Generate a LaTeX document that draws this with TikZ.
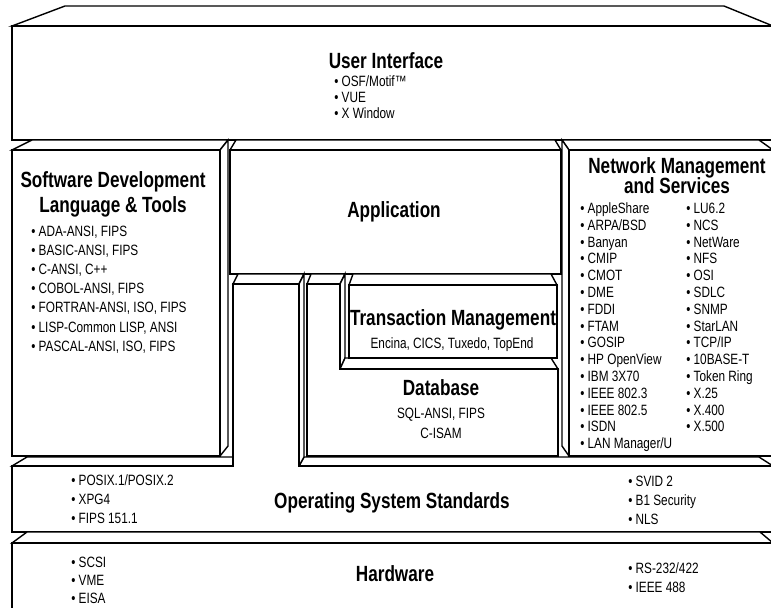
\documentclass[tikz,border=0pt]{standalone}
\usepackage{fontspec}
\setmainfont{Liberation Sans}
\newfontfamily\headf{Liberation Sans}[FakeStretch=0.78]
\newfontfamily\itemf{Liberation Sans}[FakeStretch=0.79]
\tikzset{
  face/.style={draw=black, fill=white, line width=1.05pt, line join=miter},
  head/.style={font=\headf\bfseries\fontsize{16.5}{18}\selectfont, anchor=base, inner sep=0pt},
  sub/.style={font=\itemf\fontsize{11.2}{13}\selectfont, anchor=base, inner sep=0pt},
  item/.style={font=\itemf\fontsize{11.2}{13}\selectfont, anchor=base west, inner sep=0pt}
}
\begin{document}
\begin{tikzpicture}[x=0.75pt,y=-0.75pt]
\useasboundingbox (0,0) rectangle (771,607);
\clip (0,0) rectangle (771,607);
% User Interface
\draw[face] (12,26) -- (65,6) -- (724,6) -- (773,26) -- cycle;
\draw[face] (12,26) rectangle (773,140);
% Software Development
\draw[face] (12,150) -- (32,140) -- (228,140) -- (220,150) -- cycle;
\draw[face] (220,150) -- (228,140) -- (228,446) -- (220,456) -- cycle;
\draw[face] (12,150) rectangle (220,456);
% Application
\draw[face] (230,150) -- (236,140) -- (555,140) -- (561,150) -- cycle;
\draw[face] (230,150) rectangle (561,274);
% Network
\draw[face] (569,150) -- (562,140) -- (759,140) -- (773,150) -- cycle;
\draw[face] (569,150) -- (562,140) -- (562,446) -- (569,456) -- cycle;
\draw[face] (569,150) rectangle (773,456);
% Database (L-shaped)
\draw[face] (307,284) -- (311,274) -- (345,274) -- (340,284) -- cycle;
\draw[face] (340,284) -- (345,274) -- (345,358) -- (340,369) -- cycle;
\draw[face] (340,369) -- (345,358) -- (551,358) -- (558,369) -- cycle;
\draw[face] (307,284) -- (340,284) -- (340,369) -- (558,369) -- (558,456) -- (307,456) -- cycle;
% Transaction Management
\draw[face] (349,285) -- (353,274) -- (551,274) -- (557,285) -- cycle;
\draw[face] (349,285) rectangle (557,358);
% Operating System (T-shaped, with a column up to the Application)
\draw[face] (12,466) -- (27,457) -- (240,457) -- (233,466) -- cycle;
\draw[face] (299,466) -- (304,457) -- (759,457) -- (773,466) -- cycle;
\draw[face] (233,284) -- (238,274) -- (304,274) -- (299,284) -- cycle;
\draw[face] (299,284) -- (304,274) -- (304,457) -- (299,466) -- cycle;
\draw[face] (12,466) -- (233,466) -- (233,284) -- (299,284) -- (299,466) -- (773,466)
  -- (773,532) -- (12,532) -- cycle;
% Hardware
\draw[face] (12,543) -- (27,532) -- (760,532) -- (773,543) -- cycle;
\draw[face] (12,543) rectangle (773,620);

% Texts
\node[head] (ui) at (386,68) {User Interface};
\foreach \t [count=\i] in {OSF/Motif™, VUE, X Window}
  \node[item] (ui\i) at (334,{86.4+15.8*(\i-1)}) {\textbullet\ \t};

\node[head] (sdh1) at (113,187) {Software Development};
\node[head] (sdh2) at (113,212) {Language \& Tools};
\foreach \t [count=\i] in {{ADA-ANSI, FIPS},{BASIC-ANSI, FIPS},{C-ANSI, C++},{COBOL-ANSI, FIPS},{FORTRAN-ANSI, ISO, FIPS},{LISP-Common LISP, ANSI},{PASCAL-ANSI, ISO, FIPS}}
  \node[item] (sd\i) at (31,{236.1+19.2*(\i-1)}) {\textbullet\ \t};

\node[head] (app) at (394,217) {Application};

\node[head] (nmh1) at (677,173) {Network Management};
\node[head] (nmh2) at (677,193) {and Services};
\foreach \t [count=\i] in {AppleShare,ARPA/BSD,Banyan,CMIP,CMOT,DME,FDDI,FTAM,GOSIP,HP OpenView,IBM 3X70,IEEE 802.3,IEEE 802.5,ISDN,LAN Manager/U}
  \node[item] (na\i) at (580,{213.4+16.8*(\i-1)}) {\textbullet\ \t};
\foreach \t [count=\i] in {LU6.2,NCS,NetWare,NFS,OSI,SDLC,SNMP,StarLAN,TCP/IP,10BASE-T,Token Ring,X.25,X.400,X.500}
  \node[item] (nb\i) at (686,{213.4+16.8*(\i-1)}) {\textbullet\ \t};

\node[head] (tm) at (453,325) {Transaction Management};
\node[sub] (tmsub) at (452,348) {Encina, CICS, Tuxedo, TopEnd};

\node[head] (db) at (441,395) {Database};
\node[sub] (db1) at (441,418.5) {SQL-ANSI, FIPS};
\node[sub] (db2) at (441,438.5) {C-ISAM};

\node[head] (os) at (392,508) {Operating System Standards};
\foreach \t [count=\i] in {POSIX.1/POSIX.2,XPG4,FIPS 151.1}
  \node[item] (osl\i) at (71,{485.4+18.9*(\i-1)}) {\textbullet\ \t};
\foreach \t [count=\i] in {SVID 2,B1 Security,NLS}
  \node[item] (osr\i) at (628,{486.4+19*(\i-1)}) {\textbullet\ \t};

\node[head] (hw) at (395,581) {Hardware};
\foreach \t [count=\i] in {SCSI,VME,EISA}
  \node[item] (hwl\i) at (71,{567.4+18*(\i-1)}) {\textbullet\ \t};
\foreach \t [count=\i] in {RS-232/422,IEEE 488}
  \node[item] (hwr\i) at (628,{573.4+19*(\i-1)}) {\textbullet\ \t};
\end{tikzpicture}
\end{document}
